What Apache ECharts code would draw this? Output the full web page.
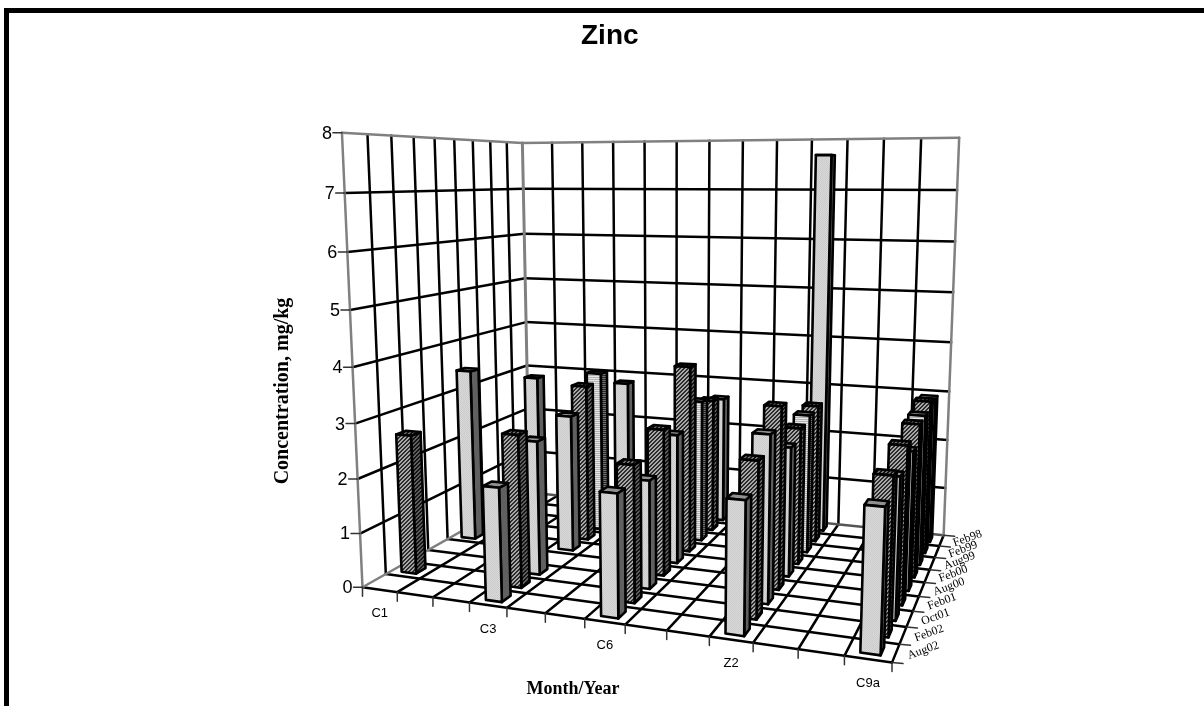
<!DOCTYPE html>
<html>
<head>
<meta charset="utf-8">
<title>Zinc</title>
<script src="https://cdn.jsdelivr.net/npm/echarts@6/dist/echarts.min.js"></script>
<style>
  html, body { margin: 0; padding: 0; background: #fff; }
  #grafico { width: 1204px; height: 706px; }
</style>
</head>
<body>
<div id="grafico"></div>
<script>
// Estaciones (13 categorias, solo se rotula una de cada tres)
const categorias = ['C1', '', '', 'C3', '', '', 'C6', '', '', 'Z2', '', '', 'C9a'];
// Meses de adelante hacia atras
const meses = ['Aug02', 'Feb02', 'Oct01', 'Feb01', 'Aug00', 'Feb00', 'Aug99', 'Feb99', 'Feb98'];
const ticksZ = [0, 1, 2, 3, 4, 5, 6, 7, 8];

// Concentracion por estacion, mismo orden que meses
const valoresC1  = [null, 2.62, null, null, 3.45, null, null, null, 2.82];
const valoresC3  = [2.04, 2.8, 2.52, null, 2.69, 3.15, 3.29, null, 2.83];
const valoresC6  = [2.15, 2.45, 1.99, 2.75, 2.49, 3.67, 2.85, 2.73, 2.63];
const valoresZ2  = [2.25, 2.71, 2.99, 3.33, 2.43, 2.63, 2.73, 2.77, 7.68];
const valoresC9a = [2.36, 2.66, 2.46, 2.81, 2.54, 2.87, 2.88, 3.01, 2.93];

const estaciones = [
    { celda: 0, valores: valoresC1 },
    { celda: 3, valores: valoresC3 },
    { celda: 6, valores: valoresC6 },
    { celda: 9, valores: valoresZ2 },
    { celda: 12, valores: valoresC9a }
];

const zMax = 8;
const anchoBarra = 0.43; // fraccion de la celda
const fondoBarra = 0.44;

// Puntos de calibracion de la perspectiva: [u, v, z, px, py]
const calibracion = [
    [0, 0, 0, 362, 587], [1, 0, 0, 892, 663], [1, 1, 0, 944, 535], [0, 1, 0, 530, 493],
    [0, 0, 4, 353, 367], [0, 1, 4, 526, 322], [1, 1, 4, 950, 342],
    [0, 0, 8, 342, 133], [0, 1, 8, 522, 143], [1, 1, 8, 960, 138]
];

// Resuelve la matriz de proyeccion por minimos cuadrados
function resolverCamara(puntos) {
    const filas = [];
    const lado = [];
    puntos.forEach(([u, v, z, px, py]) => {
        const w = z / zMax;
        filas.push([u, v, w, 1, 0, 0, 0, 0, -px * u, -px * v, -px * w]);
        lado.push(px);
        filas.push([0, 0, 0, 0, u, v, w, 1, -py * u, -py * v, -py * w]);
        lado.push(py);
    });
    const n = 11;
    const m = [];
    for (let i = 0; i < n; i++) {
        m[i] = [];
        for (let j = 0; j < n; j++) {
            m[i][j] = filas.reduce((s, f) => s + f[i] * f[j], 0);
        }
        m[i][n] = filas.reduce((s, f, k) => s + f[i] * lado[k], 0);
    }
    for (let i = 0; i < n; i++) {
        let piv = i;
        for (let k = i + 1; k < n; k++) {
            if (Math.abs(m[k][i]) > Math.abs(m[piv][i])) piv = k;
        }
        [m[i], m[piv]] = [m[piv], m[i]];
        for (let k = 0; k < n; k++) {
            if (k === i) continue;
            const f = m[k][i] / m[i][i];
            for (let j = i; j <= n; j++) m[k][j] -= f * m[i][j];
        }
    }
    return m.map((fila, i) => fila[n] / fila[i]);
}

const cam = resolverCamara(calibracion);

function proyectar(u, v, z) {
    const w = z / zMax;
    const d = cam[8] * u + cam[9] * v + cam[10] * w + 1;
    return [
        (cam[0] * u + cam[1] * v + cam[2] * w + cam[3]) / d,
        (cam[4] * u + cam[5] * v + cam[6] * w + cam[7]) / d
    ];
}

// Tramas de relleno
function trama(tam, pintar) {
    const c = document.createElement('canvas');
    c.width = tam;
    c.height = tam;
    pintar(c.getContext('2d'));
    return { image: c, repeat: 'repeat' };
}
function tramaDiagonal(claro, oscuro) {
    return trama(4, ctx => {
        ctx.fillStyle = claro;
        ctx.fillRect(0, 0, 4, 4);
        ctx.fillStyle = oscuro;
        for (let i = 0; i < 4; i++) {
            ctx.fillRect(i, 3 - i, 1, 1);
            ctx.fillRect((i + 1) % 4, 3 - i, 1, 1);
        }
    });
}
function tramaRayas(a, b) {
    return trama(2, ctx => {
        ctx.fillStyle = a;
        ctx.fillRect(0, 0, 2, 1);
        ctx.fillStyle = b;
        ctx.fillRect(0, 1, 2, 1);
    });
}
function tramaPuntos(a, b) {
    return trama(2, ctx => {
        ctx.fillStyle = a;
        ctx.fillRect(0, 0, 2, 2);
        ctx.fillStyle = b;
        ctx.fillRect(0, 0, 1, 1);
        ctx.fillRect(1, 1, 1, 1);
    });
}

const estiloClaro = {
    frente: tramaPuntos('#d9d9d9', '#cbcbcb'),
    lado: '#606060',
    tapa: '#909090'
};
const estiloOscuro = {
    frente: tramaDiagonal('#a8a8a8', '#2c2c2c'),
    lado: tramaDiagonal('#606060', '#141414'),
    tapa: tramaDiagonal('#707070', '#141414')
};
const estiloRayas = {
    frente: tramaRayas('#e6e6e6', '#b4b4b4'),
    lado: tramaRayas('#707070', '#2a2a2a'),
    tapa: '#808080'
};
// Un relleno por mes
const estilosMes = [estiloClaro, estiloOscuro, estiloClaro, estiloOscuro, estiloClaro, estiloOscuro, estiloRayas, estiloOscuro, estiloClaro];

// Datos de barras: de atras hacia adelante para que se tapen bien
const datosBarras = [];
for (let fila = meses.length - 1; fila >= 0; fila--) {
    estaciones.forEach(est => {
        if (est.valores[fila] !== null) {
            datosBarras.push([est.celda, fila, est.valores[fila]]);
        }
    });
}

function poligono(api, puntos, relleno) {
    return {
        type: 'polygon',
        shape: { points: puntos.map(p => api.coord(p)) },
        style: { fill: relleno, stroke: '#000', lineWidth: 2.6, lineJoin: 'round' }
    };
}

function dibujarBarra(params, api) {
    const nu = categorias.length;
    const nv = meses.length;
    const cu = api.value(0);
    const cv = api.value(1);
    const z = api.value(2);
    const mu = (1 - anchoBarra) / 2;
    const mv = (1 - fondoBarra) / 2;
    const u0 = (cu + mu) / nu, u1 = (cu + 1 - mu) / nu;
    const v0 = (cv + mv) / nv, v1 = (cv + 1 - mv) / nv;
    const e = estilosMes[cv];
    return {
        type: 'group',
        children: [
            poligono(api, [proyectar(u1, v0, 0), proyectar(u1, v1, 0), proyectar(u1, v1, z), proyectar(u1, v0, z)], e.lado),
            poligono(api, [proyectar(u0, v0, z), proyectar(u1, v0, z), proyectar(u1, v1, z), proyectar(u0, v1, z)], e.tapa),
            poligono(api, [proyectar(u0, v0, 0), proyectar(u1, v0, 0), proyectar(u1, v0, z), proyectar(u0, v0, z)], e.frente)
        ]
    };
}

function linea(api, a, b, color, ancho, dx, dy) {
    const p = api.coord(a);
    const q = api.coord(b);
    return {
        type: 'line',
        shape: { x1: p[0], y1: p[1], x2: q[0] + (dx || 0), y2: q[1] + (dy || 0) },
        style: { stroke: color, lineWidth: ancho, lineCap: 'round' }
    };
}

function texto(api, p, contenido, font, align, dx, dy, rot) {
    const c = api.coord(p);
    return {
        type: 'text',
        x: c[0] + dx,
        y: c[1] + dy,
        rotation: rot || 0,
        style: { text: contenido, x: 0, y: 0, font: font, fill: '#000', align: align, verticalAlign: 'middle' }
    };
}

// Paredes, piso, marcas y rotulos
function dibujarCaja(params, api) {
    const nu = categorias.length;
    const nv = meses.length;
    const negro = '#000';
    const gris = '#808080';
    const g = 2.5;
    const hijos = [];

    for (let i = 1; i < zMax; i++) {
        hijos.push(linea(api, proyectar(0, 0, i), proyectar(0, 1, i), negro, g));
        hijos.push(linea(api, proyectar(0, 1, i), proyectar(1, 1, i), negro, g));
    }
    for (let j = 1; j < nv; j++) {
        hijos.push(linea(api, proyectar(0, j / nv, 0), proyectar(0, j / nv, zMax), negro, g));
        hijos.push(linea(api, proyectar(0, j / nv, 0), proyectar(1, j / nv, 0), negro, g));
    }
    for (let k = 1; k < nu; k++) {
        hijos.push(linea(api, proyectar(k / nu, 1, 0), proyectar(k / nu, 1, zMax), negro, g));
        hijos.push(linea(api, proyectar(k / nu, 0, 0), proyectar(k / nu, 1, 0), negro, g));
    }

    // Bordes del piso
    hijos.push(linea(api, proyectar(0, 0, 0), proyectar(1, 0, 0), negro, g));
    hijos.push(linea(api, proyectar(1, 0, 0), proyectar(1, 1, 0), negro, g));
    hijos.push(linea(api, proyectar(0, 0, 0), proyectar(0, 1, 0), gris, g));
    hijos.push(linea(api, proyectar(0, 1, 0), proyectar(1, 1, 0), '#555', g));

    // Contorno de las paredes
    hijos.push(linea(api, proyectar(0, 0, 0), proyectar(0, 0, zMax), gris, g));
    hijos.push(linea(api, proyectar(0, 1, 0), proyectar(0, 1, zMax), gris, 3));
    hijos.push(linea(api, proyectar(1, 1, 0), proyectar(1, 1, zMax), gris, g));
    hijos.push(linea(api, proyectar(0, 0, zMax), proyectar(0, 1, zMax), gris, g));
    hijos.push(linea(api, proyectar(0, 1, zMax), proyectar(1, 1, zMax), gris, g));

    // Marcas y rotulos del eje vertical
    ticksZ.forEach(t => {
        const p = proyectar(0, 0, t);
        hijos.push(linea(api, p, p, '#333', 1.5, -9, 0));
        hijos.push(texto(api, p, String(t), '18px "Liberation Sans"', 'right', -10, 1));
    });
    // Marcas y rotulos del frente
    for (let k = 0; k <= nu; k++) {
        const p = proyectar(k / nu, 0, 0);
        hijos.push(linea(api, p, p, '#333', 1.5, 0, 9));
    }
    categorias.forEach((c, k) => {
        if (c) hijos.push(texto(api, proyectar((k + 0.5) / nu, 0, 0), c, '13px "Liberation Sans"', 'center', 0, 24));
    });
    // Marcas y rotulos de los meses
    for (let j = 0; j <= nv; j++) {
        const p = proyectar(1, j / nv, 0);
        hijos.push(linea(api, p, p, '#333', 1.5, 11, 1));
    }
    meses.forEach((m, j) => {
        hijos.push(texto(api, proyectar(1, (j + 0.5) / nv, 0), m, '12px "Liberation Serif"', 'left', 12, 3, 20 * Math.PI / 180));
    });
    return { type: 'group', children: hijos };
}

const grafico = echarts.init(document.getElementById('grafico'), null, { renderer: 'canvas' });

grafico.setOption({
    animation: false,
    backgroundColor: '#ffffff',
    title: {
        text: 'Zinc',
        left: 581,
        top: 22,
        padding: 0,
        textStyle: { fontFamily: 'Liberation Sans', fontWeight: 'bold', fontSize: 28, color: '#000' }
    },
    grid: { left: 0, right: 0, top: 0, bottom: 0 },
    xAxis: { type: 'value', min: 0, max: 1204, show: false },
    yAxis: { type: 'value', min: 0, max: 706, inverse: true, show: false },
    graphic: [
        { type: 'rect', shape: { x: 4, y: 8, width: 1200, height: 5 }, style: { fill: '#000' } },
        { type: 'rect', shape: { x: 4, y: 8, width: 5, height: 698 }, style: { fill: '#000' } },
        {
            type: 'text', x: 283, y: 391, rotation: Math.PI / 2,
            style: { text: 'Concentration, mg/kg', x: 0, y: 0, align: 'center', verticalAlign: 'middle', font: 'bold 20px "Liberation Serif"', fill: '#000' }
        },
        {
            type: 'text', x: 573, y: 689,
            style: { text: 'Month/Year', x: 0, y: 0, align: 'center', verticalAlign: 'middle', font: 'bold 18px "Liberation Serif"', fill: '#000' }
        }
    ],
    series: [
        { type: 'custom', coordinateSystem: 'cartesian2d', silent: true, clip: false, data: [[0, 0]], renderItem: dibujarCaja, z: 1 },
        { type: 'custom', coordinateSystem: 'cartesian2d', silent: true, clip: false, encode: { x: 0, y: 1 }, data: datosBarras, renderItem: dibujarBarra, z: 2 }
    ]
});
</script>
</body>
</html>
